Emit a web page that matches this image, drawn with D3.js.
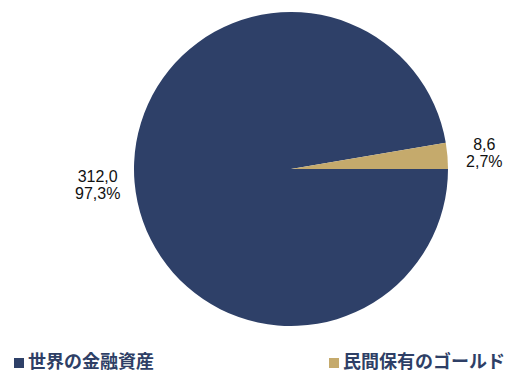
<!DOCTYPE html>
<html>
<head>
<meta charset="utf-8">
<script src="https://cdn.jsdelivr.net/npm/d3@7"></script>
<style>
  html, body { margin: 0; padding: 0; background: #ffffff; }
  svg { display: block; }
</style>
</head>
<body>
<svg id="chart" width="508" height="372"></svg>
<script>
// Holdings (values) and their shares
const categories = ["世界の金融資産", "民間保有のゴールド"];
const values = [312.0, 8.6];
const shareLabels = ["97,3%", "2,7%"];
const valueLabels = ["312,0", "8,6"];
const colors = ["#2e4068", "#c5aa6c"];

const svg = d3.select("#chart");
const cx = 291, cy = 169, radius = 157, labelRadius = 194;

// Pie starts at 3 o'clock and runs clockwise
const pie = d3.pie().sort(null)
  .startAngle(Math.PI / 2)
  .endAngle(Math.PI / 2 + 2 * Math.PI);
const arcs = pie(values);

const arc = d3.arc().innerRadius(0).outerRadius(radius);
const labelArc = d3.arc().innerRadius(labelRadius).outerRadius(labelRadius);

const g = svg.append("g").attr("transform", `translate(${cx},${cy})`);

g.selectAll("path.slice")
  .data(arcs)
  .join("path")
  .attr("class", "slice")
  .attr("d", arc)
  .attr("fill", (d, i) => colors[i]);

// Outside data labels: value on the first line, share on the second
const labels = g.selectAll("text.lbl")
  .data(arcs)
  .join("text")
  .attr("class", "lbl")
  .attr("text-anchor", "middle")
  .attr("font-family", "'Liberation Sans', Arial, sans-serif")
  .attr("font-size", 16)
  .attr("fill", "#111111")
  .attr("transform", d => {
    const [x, y] = labelArc.centroid(d);
    return `translate(${x},${y})`;
  });

labels.append("tspan")
  .attr("x", 0)
  .attr("y", -3)
  .text((d, i) => valueLabels[i]);
labels.append("tspan")
  .attr("x", 0)
  .attr("y", 14)
  .text((d, i) => shareLabels[i]);

// Legend along the bottom
const legendX = [14, 329];
const legend = svg.selectAll("g.legend")
  .data(categories)
  .join("g")
  .attr("class", "legend")
  .attr("transform", (d, i) => `translate(${legendX[i]},357)`);

legend.append("rect")
  .attr("x", 0)
  .attr("y", 1)
  .attr("width", 10)
  .attr("height", 10)
  .attr("fill", (d, i) => colors[i]);

legend.append("text")
  .attr("x", 14)
  .attr("y", 11)
  .attr("font-family", "'Noto Sans CJK JP', sans-serif")
  .attr("font-weight", "bold")
  .attr("font-size", 18)
  .attr("fill", "#2e3f66")
  .text(d => d);
</script>
</body>
</html>
